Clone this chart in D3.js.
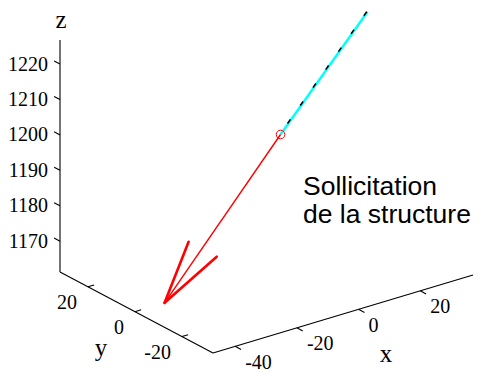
<!DOCTYPE html>
<html>
<head>
<meta charset="utf-8">
<script src="https://cdn.jsdelivr.net/npm/d3@7"></script>
<style>
  html, body { margin: 0; padding: 0; background: #fff; }
  svg { display: block; }
</style>
</head>
<body>
<svg id="chart" width="480" height="372"></svg>
<script>
// Axis limits of the 3-D box
const xLim = [-47.2, 37.1];
const yLim = [-33.2, 31.9];
const zLim = [1161.3, 1226.8];

// Tick values
const xTicks = [-40, -20, 0, 20];
const yTicks = [-20, 0, 20];
const zTicks = [1170, 1180, 1190, 1200, 1210, 1220];

// Load point on the structure
const loadPoint = [0, 0, 1199];

// Structure member (continuation above the load point)
const memberX = [0, 28.2];
const memberY = [0, 0];
const memberZ = [1199, 1226.3];

// Force vector: shaft from the load point to the tip
const forceX = [0, -37.6];
const forceY = [0, 0];
const forceZ = [1199, 1161.3];

// Arrow head barbs, each drawn from the tip
const barbX = [-29.8, -20.7];
const barbY = [0, 0];
const barbZ = [1176.5, 1169.9];

const svg = d3.select("#chart");

// Oblique 3-D view built from linear scales
const xPx = d3.scaleLinear().domain(xLim).range([0, 260]);
const xPy = d3.scaleLinear().domain(xLim).range([0, -78]);
const yPx = d3.scaleLinear().domain(yLim).range([213, 60]);
const yPy = d3.scaleLinear().domain(yLim).range([353, 272]);
const zPy = d3.scaleLinear().domain(zLim).range([0, -232]);

function proj(x, y, z) {
  return [xPx(x) + yPx(y), xPy(x) + yPy(y) + zPy(z)];
}

const line3 = d3.line();

function seg(pts) { return line3(pts.map(p => proj(p[0], p[1], p[2]))); }

const serif = "'Liberation Serif', 'Times New Roman', serif";

// Box edges: x axis, y axis, z axis
const [x0, x1] = xLim, [y0, y1] = yLim, [z0, z1] = zLim;
const axes = svg.append("g").attr("fill", "none").attr("stroke", "#000").attr("stroke-width", 1.1);
axes.append("path").attr("d", seg([[x0, y0, z0], [x1, y0, z0]]));
axes.append("path").attr("d", seg([[x0, y1, z0], [x0, y0, z0]]));
axes.append("path").attr("d", seg([[x0, y1, z0], [x0, y1, z1]]));

// Tick marks
xTicks.forEach(v => axes.append("path").attr("d", seg([[v, y0, z0], [v, y0 - 2.5, z0]])));
yTicks.forEach(v => axes.append("path").attr("d", seg([[x0, v, z0], [x0 + 2, v, z0]])));
zTicks.forEach(v => axes.append("path").attr("d", seg([[x0, y1, v], [x0, y1 + 2.5, v]])));

// Tick labels
const labels = svg.append("g").attr("font-family", serif).attr("font-size", 20).attr("fill", "#000");
xTicks.forEach(v => {
  const p = proj(v, y0, z0);
  labels.append("text").attr("x", p[0] + 10).attr("y", p[1] + 22.5).text(v);
});
yTicks.forEach(v => {
  const p = proj(x0, v, z0);
  labels.append("text").attr("x", p[0] - 11).attr("y", p[1] + 22).attr("text-anchor", "end").text(v);
});
zTicks.forEach(v => {
  const p = proj(x0, y1, v);
  labels.append("text").attr("x", p[0] - 12).attr("y", p[1] + 6.5).attr("text-anchor", "end").text(v);
});

// Axis titles
const titles = svg.append("g").attr("font-family", serif).attr("font-size", 25).attr("fill", "#000").attr("text-anchor", "middle");
titles.append("text").attr("x", 61).attr("y", 28).text("z");
titles.append("text").attr("x", 101).attr("y", 356).text("y");
titles.append("text").attr("x", 386).attr("y", 362).text("x");

// Structure member: cyan with black dashed overlay
const memberPts = memberX.map((x, i) => [x, memberY[i], memberZ[i]]);
svg.append("path").attr("d", seg(memberPts))
  .attr("fill", "none").attr("stroke", "#00ffff").attr("stroke-width", 2.4);
svg.append("path").attr("d", seg(memberPts.slice().reverse()))
  .attr("fill", "none").attr("stroke", "#000").attr("stroke-width", 1.5)
  .attr("stroke-dasharray", "5 17").attr("transform", "translate(-0.8,0)");

// Force vector
const forcePts = forceX.map((x, i) => [x, forceY[i], forceZ[i]]);
svg.append("path").attr("d", seg(forcePts))
  .attr("fill", "none").attr("stroke", "#ff0000").attr("stroke-width", 1.4);
const tip = forcePts[1];
barbX.forEach((x, i) => {
  svg.append("path").attr("d", seg([tip, [x, barbY[i], barbZ[i]]]))
    .attr("fill", "none").attr("stroke", "#ff0000").attr("stroke-width", 2.6)
    .attr("stroke-linecap", "round");
});

// Load point marker
const lp = proj(loadPoint[0], loadPoint[1], loadPoint[2]);
svg.append("circle").attr("cx", lp[0]).attr("cy", lp[1]).attr("r", 4.3)
  .attr("fill", "none").attr("stroke", "#ff0000").attr("stroke-width", 1);

// Annotation
const note = svg.append("g").attr("font-family", "'Liberation Sans', Arial, sans-serif")
  .attr("font-size", 26.5).attr("fill", "#000");
note.append("text").attr("x", 303).attr("y", 195).text("Sollicitation");
note.append("text").attr("x", 303).attr("y", 223).text("de la structure");
</script>
</body>
</html>
